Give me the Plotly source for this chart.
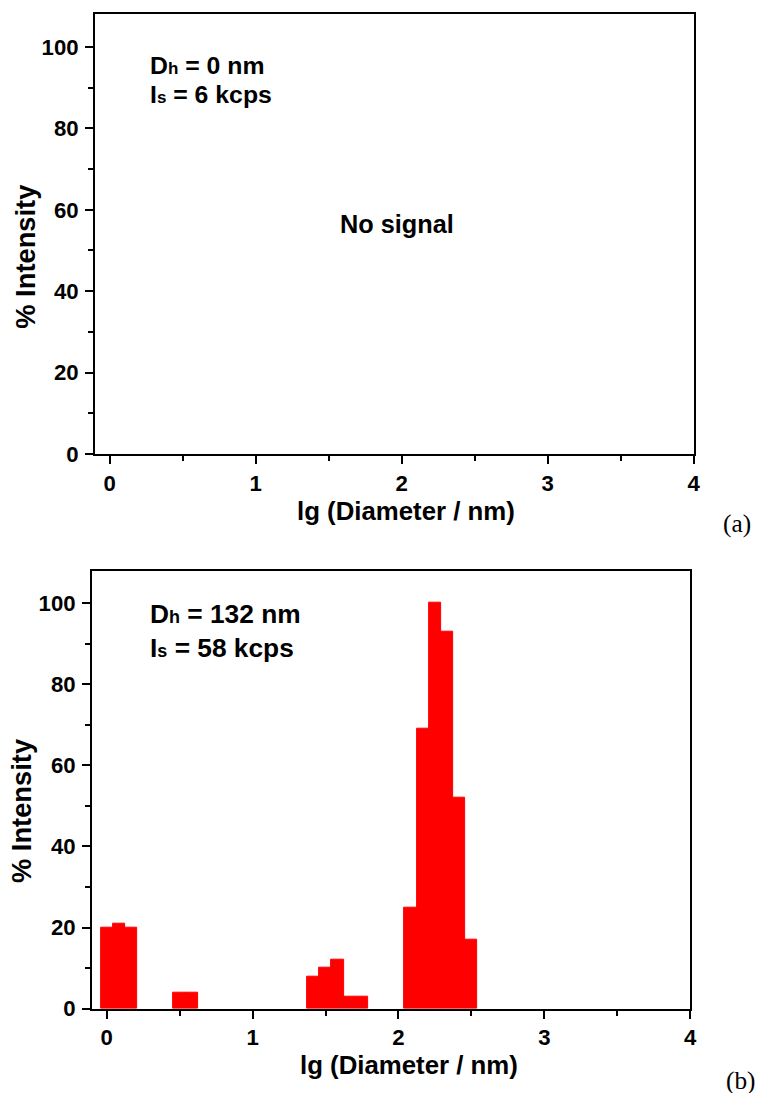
import plotly.graph_objects as go

# Size distribution (intensity-weighted) of the second sample; the first gave no signal
lg_diameter = [0.0, 0.083, 0.167, 0.5, 0.583, 1.417, 1.5, 1.583, 1.667, 1.75,
               2.083, 2.167, 2.25, 2.333, 2.417, 2.5]
intensity = [20, 21, 20, 4, 4, 8, 10, 12, 3, 3, 25, 69, 100, 93, 52, 17]
bin_width = 0.0833

x_ticks = [0, 1, 2, 3, 4]
y_ticks = [0, 20, 40, 60, 80, 100]

panel_a = {"Dh": "0 nm", "Is": "6 kcps"}
panel_b = {"Dh": "132 nm", "Is": "58 kcps"}

# page size and the layout grid the positions below are measured in
W, H = 767, 1106
GW, GH = 759, 1093
S = W / GW
FONT = "Liberation Sans"


def px_x(p):
    return p / GW


def px_y(p):
    return 1 - p / GH


def fs(v):
    return round(v * S, 1)


fig = go.Figure()

# panel (a): nothing measured
fig.add_trace(go.Bar(x=[], y=[], xaxis="x", yaxis="y", showlegend=False))
# panel (b): histogram bars
fig.add_trace(go.Bar(
    x=lg_diameter, y=intensity, width=bin_width,
    marker=dict(color="#FF0000", line=dict(width=1, color="#FF0000")),
    xaxis="x2", yaxis="y2", showlegend=False,
))

tickfont = dict(family=FONT, size=fs(22), color="black", weight="bold")
LW = fs(2)


def xaxis(domain, anchor):
    return dict(
        domain=domain, anchor=anchor, range=[-0.1, 4.0],
        tickmode="array", tickvals=x_ticks, ticktext=[str(v) for v in x_ticks],
        ticks="outside", ticklen=fs(8), tickwidth=LW, tickcolor="black",
        minor=dict(dtick=0.5, tick0=0, ticks="outside", ticklen=fs(5), tickwidth=LW, tickcolor="black"),
        showline=True, linewidth=LW, linecolor="black", mirror=True,
        showgrid=False, zeroline=False, tickfont=tickfont, ticklabelstandoff=0,
    )


def yaxis(domain, anchor):
    return dict(
        domain=domain, anchor=anchor, range=[0, 108],
        tickmode="array", tickvals=y_ticks, ticktext=[str(v) for v in y_ticks],
        ticks="outside", ticklen=fs(8), tickwidth=LW, tickcolor="black",
        minor=dict(dtick=10, tick0=0, ticks="outside", ticklen=fs(5), tickwidth=LW, tickcolor="black"),
        showline=True, linewidth=LW, linecolor="black", mirror=True,
        showgrid=False, zeroline=False, tickfont=tickfont, ticklabelstandoff=2,
    )


fig.update_layout(
    width=W, height=H, autosize=False,
    margin=dict(l=0, r=0, t=0, b=0),
    paper_bgcolor="white", plot_bgcolor="white",
    xaxis=xaxis([px_x(95), px_x(692.7)], "y"),
    yaxis=yaxis([px_y(454), px_y(14.3)], "x"),
    xaxis2=xaxis([px_x(92), px_x(689.3)], "y2"),
    yaxis2=yaxis([px_y(1008.7), px_y(570.7)], "x2"),
    bargap=0,
)

title_font = dict(family=FONT, size=fs(25.5), color="black", weight="bold")
annotations = []

# axis titles
for cx, cy in [(405.8, 511), (408, 1065)]:
    annotations.append(dict(text="lg (Diameter / nm)", xref="paper", yref="paper",
                            x=px_x(cx), y=px_y(cy), xanchor="center", yanchor="middle",
                            showarrow=False, font=title_font))
for cx, cy in [(26, 256.7), (21, 811)]:
    annotations.append(dict(text="% Intensity", xref="paper", yref="paper",
                            x=px_x(cx), y=px_y(cy), xanchor="center", yanchor="middle",
                            textangle=-90, showarrow=False,
                            font=dict(family=FONT, size=fs(27), color="black", weight="bold")))

# panel letters
for letter, cx, cy in [("(a)", 736, 523), ("(b)", 740, 1080)]:
    annotations.append(dict(text=letter, xref="paper", yref="paper",
                            x=px_x(cx), y=px_y(cy), xanchor="center", yanchor="middle",
                            showarrow=False,
                            font=dict(family="Liberation Serif", size=fs(25), color="black")))


def info_lines(panel, xr, yr, x0, y_dh, y_is, size):
    sub = round(size * 0.68)
    lines = [
        ("D<span style='font-size:%dpx'>h</span> = %s" % (sub, panel["Dh"]), y_dh),
        ("I<span style='font-size:%dpx'>s</span> = %s" % (sub, panel["Is"]), y_is),
    ]
    out = []
    for txt, yy in lines:
        out.append(dict(text=txt, xref=xr, yref=yr, x=x0, y=yy,
                        xanchor="left", yanchor="middle", showarrow=False,
                        font=dict(family=FONT, size=size, color="black", weight="bold")))
    return out


annotations += info_lines(panel_a, "x", "y", 0.265, 95.5, 88.2, fs(24.5))
annotations += info_lines(panel_b, "x2", "y2", 0.285, 97.3, 89.0, fs(26))

annotations.append(dict(text="No signal", xref="x", yref="y", x=1.97, y=56.4,
                        xanchor="center", yanchor="middle", showarrow=False,
                        font=dict(family=FONT, size=fs(25), color="black", weight="bold")))

fig.update_layout(annotations=annotations)

fig.write_html("out.html", config={"displayModeBar": False})
